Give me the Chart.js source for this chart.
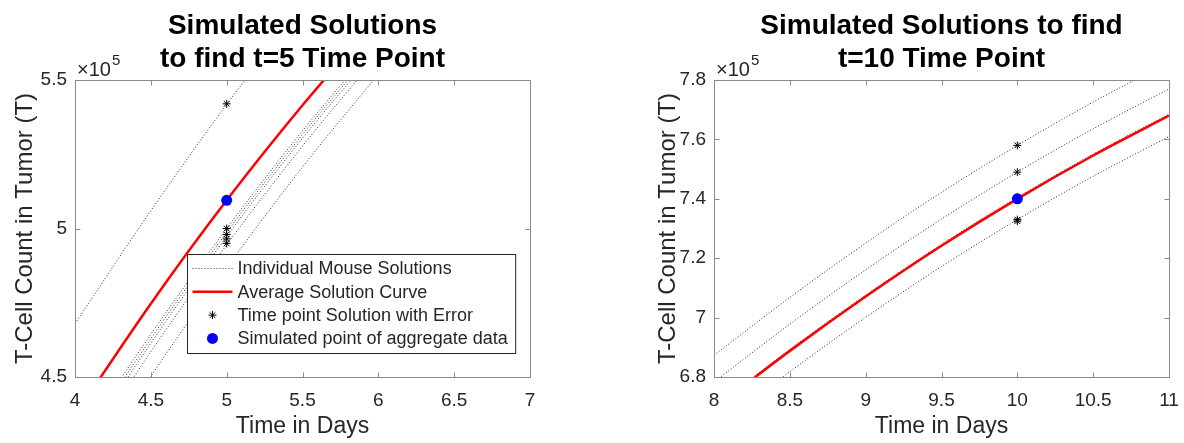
<!DOCTYPE html>
<html lang="en">
<head>
<meta charset="UTF-8">
<title>Simulated Solutions</title>
<script src="https://cdn.jsdelivr.net/npm/chart.js"></script>
<style>
    body {
        margin: 0;
        background: #fff;
        width: 1184px;
        height: 443px;
        overflow: hidden;
        position: relative;
    }
    .panel { position: absolute; top: 0; height: 443px; }
    #left { left: 0; width: 600px; }
    #right { left: 600px; width: 584px; }
</style>
</head>
<body>
<div class="panel" id="left"><canvas id="chart5" width="600" height="443"></canvas></div>
<div class="panel" id="right"><canvas id="chart10" width="584" height="443"></canvas></div>

<script>
    // t=5 panel, T-cell counts in units of 1e5
    const days5 = [4, 4.5, 5, 5.5, 6];
    const mouse5 = [
        [4.68, 5.06, 5.418, 5.75, null],
        [4.261, 4.644, 5.000, 5.329, 5.631],
        [4.245, 4.629, 4.987, 5.317, 5.620],
        [4.229, 4.614, 4.973, 5.304, 5.608],
        [4.197, 4.585, 4.945, 5.278, 5.585],
        [4.108, 4.502, 4.868, 5.207, 5.520]
    ];
    const average5 = [4.371, 4.747, 5.095, 5.415, 5.711];
    const sampleDay5 = 5;
    const errorPoints5 = [5.42, 5.00, 4.98, 4.965, 4.95];
    const aggregate5 = 5.095;

    // t=10 panel
    const days10 = [8, 8.5, 9, 9.5, 10, 10.5, 11];
    const mouse10 = [
        [6.873, 7.068, 7.251, 7.422, 7.58, 7.726, 7.86],
        [6.783, 6.978, 7.161, 7.332, 7.49, 7.636, 7.77],
        [6.698, 6.893, 7.076, 7.247, 7.405, 7.551, 7.685],
        [6.623, 6.818, 7.001, 7.172, 7.33, 7.476, 7.61]
    ];
    const average10 = [6.693, 6.888, 7.071, 7.242, 7.4, 7.546, 7.68];
    const sampleDay10 = 10;
    const errorPoints10 = [7.58, 7.49, 7.405, 7.33, 7.325];
    const aggregate10 = 7.4;

    const exponent = '5';
    const legendLabels = [
        'Individual Mouse Solutions',
        'Average Solution Curve',
        'Time point Solution with Error',
        'Simulated point of aggregate data'
    ];

    const FONT = 'Arial, "Liberation Sans", Helvetica, sans-serif';
    const TEXT = '#262626';
    const BOX = '#8a8a8a';

    const toPoints = (xs, ys) => xs.map((x, i) => ({ x: x, y: ys[i] }));
    // 4 -> "4", 4.5 -> "4.5"
    const tickText = v => String(parseFloat(Number(v).toFixed(2)));

    function drawStar(ctx, cx, cy, r) {
        ctx.beginPath();
        for (let k = 0; k < 4; k++) {
            const a = k * Math.PI / 4;
            ctx.moveTo(cx - r * Math.cos(a), cy - r * Math.sin(a));
            ctx.lineTo(cx + r * Math.cos(a), cy + r * Math.sin(a));
        }
        ctx.stroke();
    }

    // box with inward ticks on all four sides, the x10^5 multiplier and an optional legend
    const matlabAxes = {
        id: 'matlabAxes',
        afterDatasetsDraw(chart, args, opts) {
            const ctx = chart.ctx;
            const a = chart.chartArea;
            const x = chart.scales.x, y = chart.scales.y;
            const L = Math.round(a.left) + 0.5, R = Math.round(a.right) + 0.5;
            const T = Math.round(a.top) + 0.5, B = Math.round(a.bottom) + 0.5;
            ctx.save();
            ctx.strokeStyle = BOX;
            ctx.lineWidth = 1;
            ctx.strokeRect(L, T, R - L, B - T);
            ctx.beginPath();
            x.ticks.forEach(t => {
                const px = Math.round(x.getPixelForValue(t.value)) + 0.5;
                ctx.moveTo(px, B); ctx.lineTo(px, B - 5);
                ctx.moveTo(px, T); ctx.lineTo(px, T + 5);
            });
            y.ticks.forEach(t => {
                const py = Math.round(y.getPixelForValue(t.value)) + 0.5;
                ctx.moveTo(L, py); ctx.lineTo(L + 5, py);
                ctx.moveTo(R, py); ctx.lineTo(R - 5, py);
            });
            ctx.stroke();

            ctx.fillStyle = TEXT;
            ctx.textAlign = 'left';
            ctx.textBaseline = 'alphabetic';
            ctx.font = '20px ' + FONT;
            ctx.fillText('\u00d710', a.left + 2, a.top - 4);
            const w = ctx.measureText('\u00d710').width;
            ctx.font = '15px ' + FONT;
            ctx.fillText(exponent, a.left + 3 + w, a.top - 15);
            ctx.restore();
        },
        afterDraw(chart, args, opts) {
            if (!opts.legend) return;
            const ctx = chart.ctx;
            const a = chart.chartArea;
            const lx = Math.round(a.left + opts.legend.dx) + 0.5;
            const ly = Math.round(a.top + opts.legend.dy) + 0.5;
            const rowH = 23.3;
            ctx.save();
            ctx.font = '18px ' + FONT;
            const textW = Math.max(...legendLabels.map(t => ctx.measureText(t).width));
            const bw = 50 + textW + 8, bh = 99;
            ctx.fillStyle = '#fff';
            ctx.fillRect(lx, ly, bw, bh);
            ctx.strokeStyle = TEXT;
            ctx.lineWidth = 1;
            ctx.strokeRect(lx, ly, bw, bh);

            legendLabels.forEach((label, i) => {
                const cy = ly + 14 + i * rowH;
                if (i === 0) {
                    ctx.strokeStyle = '#333';
                    ctx.lineWidth = 1;
                    ctx.setLineDash([1, 2]);
                    ctx.beginPath(); ctx.moveTo(lx + 5, cy); ctx.lineTo(lx + 45, cy); ctx.stroke();
                    ctx.setLineDash([]);
                } else if (i === 1) {
                    ctx.strokeStyle = '#ff0000';
                    ctx.lineWidth = 2.5;
                    ctx.beginPath(); ctx.moveTo(lx + 5, cy); ctx.lineTo(lx + 45, cy); ctx.stroke();
                } else if (i === 2) {
                    ctx.strokeStyle = '#000';
                    ctx.lineWidth = 1;
                    drawStar(ctx, lx + 25, cy, 4);
                } else {
                    ctx.fillStyle = '#0000ff';
                    ctx.beginPath(); ctx.arc(lx + 25, cy, 5.5, 0, Math.PI * 2); ctx.fill();
                }
                ctx.fillStyle = TEXT;
                ctx.textBaseline = 'middle';
                ctx.fillText(label, lx + 50, cy + 1);
            });
            ctx.restore();
        }
    };

    function buildPanel(canvasId, cfg) {
        const datasets = [
            {
                data: [{ x: cfg.sampleDay, y: cfg.aggregate }],
                pointStyle: 'circle', pointRadius: 5.5,
                backgroundColor: '#0000ff', borderColor: '#0000ff', borderWidth: 0,
                order: 0
            },
            {
                data: cfg.errorPoints.map(v => ({ x: cfg.sampleDay, y: v })),
                pointStyle: 'star', pointRadius: 4,
                borderColor: '#000', borderWidth: 1,
                order: 1
            },
            {
                data: toPoints(cfg.days, cfg.average),
                showLine: true, pointRadius: 0,
                borderColor: '#ff0000', borderWidth: 2.5,
                tension: 0.4, cubicInterpolationMode: 'monotone',
                order: 2
            }
        ];
        cfg.mice.forEach(m => datasets.push({
            data: toPoints(cfg.days, m),
            showLine: true, pointRadius: 0,
            borderColor: '#2a2a2a', borderWidth: 1, borderDash: [1, 2],
            tension: 0.4, cubicInterpolationMode: 'monotone',
            order: 3
        }));

        return new Chart(document.getElementById(canvasId), {
            type: 'scatter',
            data: { datasets: datasets },
            plugins: [matlabAxes],
            options: {
                responsive: false,
                animation: false,
                layout: { padding: cfg.padding },
                scales: {
                    x: {
                        type: 'linear',
                        min: cfg.xRange[0], max: cfg.xRange[1],
                        ticks: { stepSize: 0.5, color: TEXT, font: { family: FONT, size: 19 }, padding: 12, maxRotation: 0, callback: tickText },
                        grid: { display: false, drawTicks: false },
                        border: { display: false },
                        title: { display: true, text: 'Time in Days', color: TEXT, font: { family: FONT, size: 23 }, padding: { top: 0, bottom: 3 } },
                        afterFit(s) {
                            s.height = 66;
                            // end labels may hang past the plot box
                            s.paddingLeft = 0;
                            s.paddingRight = 0;
                        }
                    },
                    y: {
                        type: 'linear',
                        min: cfg.yRange[0], max: cfg.yRange[1],
                        ticks: { stepSize: cfg.yStep, color: TEXT, font: { family: FONT, size: 19 }, padding: 8, callback: tickText },
                        grid: { display: false, drawTicks: false },
                        border: { display: false },
                        title: { display: true, text: 'T-Cell Count in Tumor (T)', color: TEXT, font: { family: FONT, size: 24 }, padding: { top: cfg.yTitlePad, bottom: 0 } },
                        afterFit(s) { s.width = cfg.yWidth; }
                    }
                },
                plugins: {
                    legend: { display: false },
                    tooltip: { enabled: false },
                    title: {
                        display: true,
                        text: cfg.title,
                        color: '#000',
                        fullSize: false,
                        font: { family: FONT, size: 28, weight: 'bold', lineHeight: 1.18 },
                        padding: { top: 10, bottom: 4 }
                    },
                    matlabAxes: { legend: cfg.legend }
                }
            }
        });
    }

    buildPanel('chart5', {
        days: days5, mice: mouse5, average: average5,
        sampleDay: sampleDay5, errorPoints: errorPoints5, aggregate: aggregate5,
        xRange: [4, 7], yRange: [4.5, 5.5], yStep: 0.5,
        title: ['Simulated Solutions', 'to find t=5 Time Point'],
        padding: { left: 0, right: 70, top: 0, bottom: 0 },
        yWidth: 75, yTitlePad: 11,
        legend: { dx: 112, dy: 174 }
    });

    buildPanel('chart10', {
        days: days10, mice: mouse10, average: average10,
        sampleDay: sampleDay10, errorPoints: errorPoints10, aggregate: aggregate10,
        xRange: [8, 11], yRange: [6.8, 7.8], yStep: 0.2,
        title: ['Simulated Solutions to find', 't=10 Time Point'],
        padding: { left: 0, right: 15, top: 0, bottom: 0 },
        yWidth: 114, yTitlePad: 54,
        legend: null
    });
</script>
</body>
</html>
